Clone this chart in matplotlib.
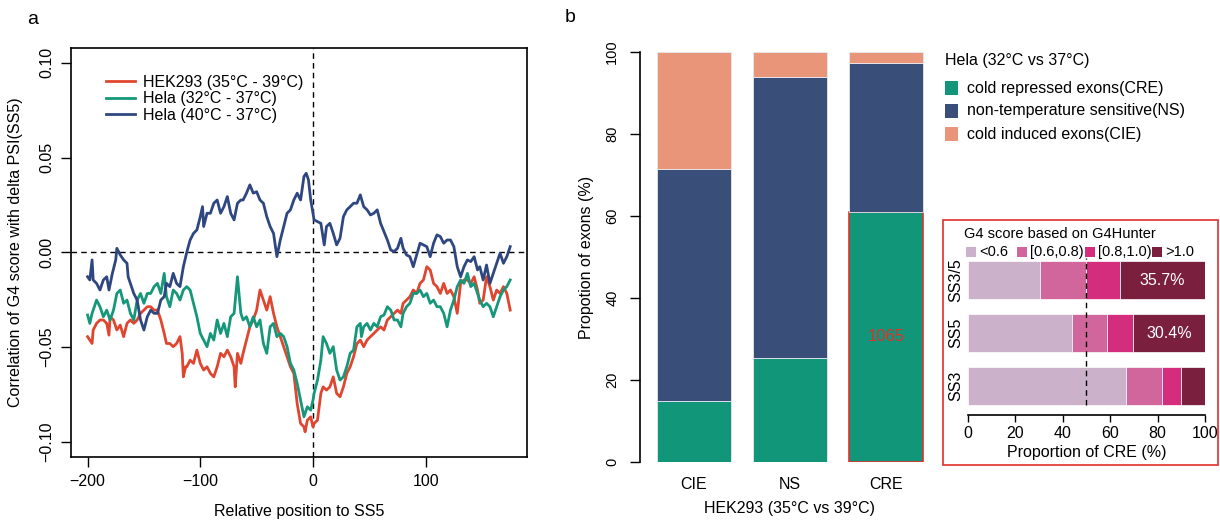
import matplotlib.pyplot as plt
import matplotlib.patches as patches
import numpy as np

plt.rcParams['font.family'] = ['Liberation Sans', 'DejaVu Sans']
plt.rcParams['font.size'] = 11
plt.rcParams['axes.linewidth'] = 1.2

W, H = 1220, 521

# ---- panel a: correlation along relative position to SS5 ----
hek_x = [-200, -198, -196, -195, -192, -189, -186, -183, -181, -180,
         -177, -174, -171, -168, -165, -162, -159, -156, -153, -150,
         -147, -144, -141, -138, -135, -132, -130, -127, -124, -121,
         -118, -116, -115, -113, -112, -109, -106, -103, -100, -97,
         -94, -91, -88, -85, -82, -79, -76, -73, -70, -69,
         -67, -64, -62, -59, -56, -53, -50, -47, -44, -41,
         -38, -35, -32, -29, -26, -23, -20, -17, -14, -11,
         -8, -7, -5, -2, 0,
         1, 4, 7, 9, 12, 15, 18, 21, 24, 27,
         30, 33, 36, 39, 42, 45, 48, 51, 54, 57,
         60, 63, 66, 69, 72, 75, 78, 80, 83, 86,
         89, 92, 95, 98, 101,
         104, 107, 110, 113, 116, 119, 122, 125, 128, 131,
         134, 137, 140, 143, 146, 148, 151, 154, 157, 160,
         163, 166, 169, 172, 175]
hek_y = [-0.0445, -0.0463, -0.0481, -0.0410, -0.0375, -0.0357, -0.0357, -0.0375, -0.0437, -0.0340,
         -0.0357, -0.0410, -0.0384, -0.0445, -0.0375, -0.0357, -0.0375, -0.0357, -0.0322, -0.0305,
         -0.0287, -0.0287, -0.0305, -0.0305, -0.0357, -0.0428, -0.0481, -0.0481, -0.0498, -0.0481,
         -0.0445, -0.0533, -0.0657, -0.0604, -0.0604, -0.0569, -0.0586, -0.0516, -0.0586, -0.0621,
         -0.0604, -0.0639, -0.0657, -0.0604, -0.0533, -0.0551, -0.0516, -0.0551, -0.0604, -0.0710,
         -0.0533, -0.0586, -0.0533, -0.0463, -0.0393, -0.0357, -0.0305, -0.0199, -0.0252, -0.0305,
         -0.0234, -0.0322, -0.0393, -0.0445, -0.0498, -0.0551, -0.0604, -0.0639, -0.0799, -0.0903,
         -0.0921, -0.0947, -0.0886, -0.0868, -0.0921,
         -0.0903, -0.0886, -0.0744, -0.0710, -0.0727, -0.0710, -0.0657, -0.0744, -0.0762, -0.0710,
         -0.0639, -0.0604, -0.0551, -0.0482, -0.0463, -0.0498, -0.0463, -0.0445, -0.0428, -0.0410,
         -0.0393, -0.0410, -0.0357, -0.0340, -0.0322, -0.0305, -0.0322, -0.0269, -0.0252, -0.0234,
         -0.0199, -0.0217, -0.0164, -0.0146, -0.0076,
         -0.0093, -0.0164, -0.0181, -0.0217, -0.0164, -0.0217, -0.0199, -0.0234, -0.0322, -0.0164,
         -0.0146, -0.0146, -0.0164, -0.0129, -0.0199, -0.0269, -0.0252, -0.0129, -0.0181, -0.0252,
         -0.0199, -0.0217, -0.0181, -0.0217, -0.0305]

hela32_x = [-200, -198, -196, -195, -192, -189, -186, -183, -180, -177,
            -174, -171, -168, -165, -162, -159, -156, -153, -150, -147,
            -144, -141, -138, -135, -132, -130, -127, -124, -121, -118,
            -115, -112, -109, -106, -103, -100, -97, -94, -91, -88,
            -85, -82, -79, -76, -73, -70, -67, -64, -62, -59,
            -56, -53, -50, -47, -44, -41, -38, -35, -32, -29,
            -26, -23, -20, -17, -14, -11, -8, -5, -2, 0,
            1, 4, 7, 9, 12, 15, 18, 21, 24, 27,
            30, 33, 36, 39, 42, 43, 45, 48, 51, 54,
            57, 60, 63, 66, 69, 72, 75, 78, 80, 83,
            86, 89, 92, 95, 98, 101,
            104, 107, 110, 113, 116, 119, 122, 125, 128, 131,
            134, 137, 140, 143, 146, 148, 151, 154, 157, 160,
            163, 166, 169, 172, 175]
hela32_y = [-0.0331, -0.0375, -0.0322, -0.0305, -0.0252, -0.0287, -0.0340, -0.0305, -0.0357, -0.0305,
            -0.0217, -0.0199, -0.0269, -0.0252, -0.0322, -0.0357, -0.0252, -0.0217, -0.0269, -0.0217,
            -0.0217, -0.0181, -0.0164, -0.0217, -0.0111, -0.0234, -0.0287, -0.0199, -0.0217, -0.0252,
            -0.0199, -0.0181, -0.0199, -0.0269, -0.0340, -0.0428, -0.0463, -0.0498, -0.0428, -0.0463,
            -0.0357, -0.0428, -0.0375, -0.0445, -0.0340, -0.0322, -0.0129, -0.0322, -0.0357, -0.0340,
            -0.0393, -0.0340, -0.0393, -0.0357, -0.0481, -0.0533, -0.0393, -0.0375, -0.0445, -0.0428,
            -0.0445, -0.0498, -0.0586, -0.0621, -0.0692, -0.0780, -0.0868, -0.0815, -0.0833, -0.0780,
            -0.0745, -0.0674, -0.0569, -0.0445, -0.0481, -0.0533, -0.0498, -0.0621, -0.0674, -0.0657,
            -0.0604, -0.0533, -0.0516, -0.0393, -0.0375, -0.0445, -0.0393, -0.0375, -0.0410, -0.0375,
            -0.0393, -0.0340, -0.0331, -0.0287, -0.0305, -0.0357, -0.0357, -0.0393, -0.0322, -0.0287,
            -0.0269, -0.0217, -0.0217, -0.0199, -0.0234, -0.0217,
            -0.0269, -0.0252, -0.0287, -0.0287, -0.0322, -0.0393, -0.0305, -0.0252, -0.0181, -0.0146,
            -0.0164, -0.0111, -0.0181, -0.0164, -0.0217, -0.0252, -0.0287, -0.0269, -0.0287, -0.0340,
            -0.0287, -0.0234, -0.0199, -0.0181, -0.0146]

hela40_x = [-200, -198, -196, -195, -192, -189, -186, -183, -181, -178,
            -175, -174, -171, -168, -165, -164, -161, -159, -156, -153,
            -150, -147, -144, -141, -138, -135, -132, -130, -127, -124,
            -121, -118, -115, -112, -109, -106, -103, -100, -98, -97,
            -94, -91, -88, -85, -82, -79, -76, -73, -70, -67,
            -64, -62, -59, -56, -53, -50, -47, -44, -41, -38,
            -35, -32, -29, -26, -23, -20, -17, -14, -11, -8,
            -6, -4, -2, 0, 1, 4, 7, 10, 12, 15,
            18, 21, 24, 27, 30, 33, 36, 39, 42, 45,
            48, 51, 54, 57, 60, 63, 66, 69, 72, 75,
            78, 80, 83, 86, 89, 92, 95, 98, 101, 104,
            107, 110, 113, 116, 119, 122, 125, 128, 131, 134,
            137, 140, 143, 146, 148, 151, 154, 157, 160, 163,
            166, 169, 172, 175]
hela40_y = [-0.0129, -0.0146, -0.0040, -0.0146, -0.0164, -0.0199, -0.0146, -0.0129, -0.0199, -0.0111,
            -0.0040, 0.0021, -0.0014, -0.0040, -0.0058, -0.0129, -0.0181, -0.0217, -0.0252, -0.0357,
            -0.0410, -0.0340, -0.0305, -0.0322, -0.0322, -0.0252, -0.0234, -0.0164, -0.0181, -0.0111,
            -0.0164, -0.0181, -0.0076, 0.0000, 0.0065, 0.0100, 0.0118, 0.0188, 0.0241, 0.0136,
            0.0206, 0.0206, 0.0259, 0.0276, 0.0206, 0.0241, 0.0294, 0.0206, 0.0171, 0.0259,
            0.0276, 0.0276, 0.0312, 0.0356, 0.0312, 0.0320, 0.0276, 0.0259, 0.0188, 0.0136,
            0.0100, -0.0023, 0.0065, 0.0136, 0.0206, 0.0224, 0.0276, 0.0312, 0.0276, 0.0400,
            0.0417, 0.0382, 0.0276, 0.0206, 0.0171, 0.0162, 0.0153, 0.0039, 0.0136, 0.0153,
            0.0100, 0.0039, 0.0074, 0.0188, 0.0224, 0.0241, 0.0259, 0.0259, 0.0303, 0.0241,
            0.0224, 0.0197, 0.0206, 0.0224, 0.0153, 0.0109, 0.0065, 0.0012, 0.0004, 0.0021,
            0.0074, 0.0021, -0.0014, -0.0023, -0.0076, -0.0014, 0.0048, 0.0039, 0.0030, -0.0023,
            0.0048, 0.0092, 0.0083, 0.0048, 0.0065, 0.0065, 0.0030, -0.0076, -0.0129, -0.0076,
            -0.0040, -0.0049, -0.0023, -0.0093, -0.0076, -0.0146, -0.0067, -0.0164, -0.0111, -0.0058,
            -0.0005, -0.0058, -0.0023, 0.0030]

series_names = ['HEK293 (35°C - 39°C)', 'Hela (32°C - 37°C)', 'Hela (40°C - 37°C)']
series_cols = ['#E0462F', '#16977A', '#2E4780']

# ---- panel b: stacked proportions ----
groups = ['CIE', 'NS', 'CRE']
cre_pct = [14.8, 25.3, 61.0]
ns_pct = [56.6, 68.5, 36.3]
cie_pct = [28.6, 6.2, 2.7]
cre_count = 1065
stack_names = ['cold repressed exons(CRE)', 'non-temperature sensitive(NS)', 'cold induced exons(CIE)']
stack_cols = ['#11967A', '#3A4E7A', '#E8957A']

# ---- inset: G4Hunter score bins ----
sites = ['SS3', 'SS5', 'SS3/5']
bins = ['<0.6', '[0.6,0.8)', '[0.8,1.0)', '>1.0']
ss3 = [66.6, 15.3, 8.0, 10.1]
ss5 = [43.8, 15.0, 10.8, 30.4]
ss35 = [30.5, 19.4, 14.4, 35.7]
bin_cols = ['#CCB1CB', '#D1669D', '#D52D7E', '#7A1F3D']


def box(x0, y0, x1, y1):
    # pixel box (origin top-left) -> figure rect
    return [x0 / W, 1 - y1 / H, (x1 - x0) / W, (y1 - y0) / H]


fig = plt.figure(figsize=(W / 100, H / 100), dpi=100)

# panel a
ax = fig.add_axes(box(71, 48, 527, 457))
for xs, ys, c, lab in zip([hek_x, hela32_x, hela40_x], [hek_y, hela32_y, hela40_y],
                          series_cols, series_names):
    ax.plot(xs, ys, color=c, lw=2.0, label=lab, solid_joinstyle='round')
ax.axhline(0, color='k', lw=1, ls=(0, (4, 3)), zorder=0)
ax.axvline(0, color='k', lw=1, ls=(0, (4, 3)), zorder=0)
ax.set_xlim(-214.7, 189.9)
ax.set_ylim(-0.108, 0.1078)
ax.set_xticks([-200, -100, 0, 100])
ax.set_xticklabels(['\u2212200', '\u2212100', '0', '100'])
ax.set_yticks([-0.1, -0.05, 0, 0.05, 0.1])
ax.set_yticklabels(['\u22120.10', '\u22120.05', '0.00', '0.05', '0.10'], rotation=90, va='center')
ax.tick_params(length=7, width=1, labelsize=11.5, pad=5)
ax.set_xlabel('Relative position to SS5', fontsize=11.5, labelpad=11)
ax.set_ylabel('Correlation of G4 score with delta PSI(SS5)', fontsize=11.5, labelpad=12)
ax.legend(loc='upper left', bbox_to_anchor=(106 / W, 1 - 75 / H), bbox_transform=fig.transFigure,
          frameon=False, fontsize=11.5, handlelength=1.8, handletextpad=0.5,
          labelspacing=0.08, borderpad=0, borderaxespad=0)

# panel b
axb = fig.add_axes(box(640, 52, 940, 462))
xpos = np.arange(len(groups))
bottom = np.zeros(len(groups))
layers = []
for vals, col in zip([cre_pct, ns_pct, cie_pct], stack_cols):
    bars = axb.bar(xpos, vals, width=0.77, bottom=bottom, color=col, edgecolor='#E6E9F0', lw=0.6)
    layers.append(bars)
    bottom += np.array(vals)
layers[0][2].set_edgecolor('#E0302A')
layers[0][2].set_linewidth(1.2)
axb.text(xpos[2], cre_pct[2] / 2, str(cre_count), color='#E0302A', ha='center', va='center', fontsize=12)
axb.set_xlim(-0.561, 2.557)
axb.set_ylim(0, 100)
for s in ['top', 'right', 'bottom']:
    axb.spines[s].set_visible(False)
axb.spines['left'].set_bounds(0, 100)
axb.set_yticks(np.arange(0, 101, 20))
axb.set_yticklabels([str(v) for v in range(0, 101, 20)], rotation=90, va='center')
axb.set_xticks(xpos)
axb.set_xticklabels(groups)
axb.tick_params(axis='y', length=7, width=1, labelsize=10.5, pad=8)
axb.tick_params(axis='x', length=0, labelsize=11.5, pad=11)
axb.set_xlabel('HEK293 (35°C vs 39°C)', fontsize=11.5, labelpad=6)
axb.set_ylabel('Propotion of exons (%)', fontsize=11.5, labelpad=8)

# panel b legend
fig.text(945 / W, 1 - 60 / H, 'Hela (32°C vs 37°C)', fontsize=11.5, va='center', ha='left')
for i, (lab, col) in enumerate(zip(stack_names, stack_cols)):
    yc = 88 + 23 * i
    fig.add_artist(patches.Rectangle((945 / W, 1 - (yc + 7) / H), 13 / W, 14 / H,
                                     transform=fig.transFigure, facecolor=col, edgecolor='none'))
    fig.text(967 / W, 1 - yc / H, lab, fontsize=11.5, va='center', ha='left')

# inset
frame = patches.Rectangle((943 / W, 1 - 465 / H), 275 / W, 245 / H, transform=fig.transFigure,
                          facecolor='none', edgecolor='#E0302A', lw=1.2, zorder=-1)
fig.add_artist(frame)
axi = fig.add_axes(box(967.7, 255, 1205, 415))
axi.set_zorder(5)
ypos = np.arange(len(sites))
table = np.array([ss3, ss5, ss35])
left = np.zeros(len(sites))
for j, col in enumerate(bin_cols):
    axi.barh(ypos, table[:, j], height=0.717, left=left, color=col, edgecolor='white', lw=0.5)
    left += table[:, j]
for i in range(len(sites)):
    v = table[i, -1]
    if v > 20:
        axi.text(100 - v / 2, ypos[i], f'{v:.1f}%', color='white', ha='center', va='center', fontsize=11.5)
axi.axvline(50, ymin=0.0625, ymax=0.98, color='k', lw=1, ls=(0, (4, 3)))
axi.set_xlim(0, 100)
axi.set_ylim(-0.547, 2.472)
for s in ['top', 'right', 'left']:
    axi.spines[s].set_visible(False)
axi.set_xticks(np.arange(0, 101, 20))
axi.set_yticks(ypos)
axi.set_yticklabels(sites, rotation=90, va='center')
axi.tick_params(axis='x', length=5, width=1, labelsize=11.5, pad=3)
axi.tick_params(axis='y', length=0, labelsize=11.5, pad=3)
axi.set_xlabel('Proportion of CRE (%)', fontsize=11.5, labelpad=3)
axi.patch.set_alpha(0)

fig.text(1060 / W, 1 - 234 / H, 'G4 score based on G4Hunter', fontsize=10.5, ha='center', va='center')
lx = [966, 1017, 1085, 1152]
for x0, lab, col in zip(lx, bins, bin_cols):
    fig.add_artist(patches.Rectangle((x0 / W, 1 - 257 / H), 10 / W, 10 / H,
                                     transform=fig.transFigure, facecolor=col, edgecolor='none'))
    fig.text((x0 + 13) / W, 1 - 252 / H, lab, fontsize=10.5, va='center', ha='left')

fig.text(33 / W, 1 - 20 / H, 'a', fontsize=14, ha='center', va='center')
fig.text(570 / W, 1 - 18 / H, 'b', fontsize=14, ha='center', va='center')

fig.savefig('out.png', dpi=100)
